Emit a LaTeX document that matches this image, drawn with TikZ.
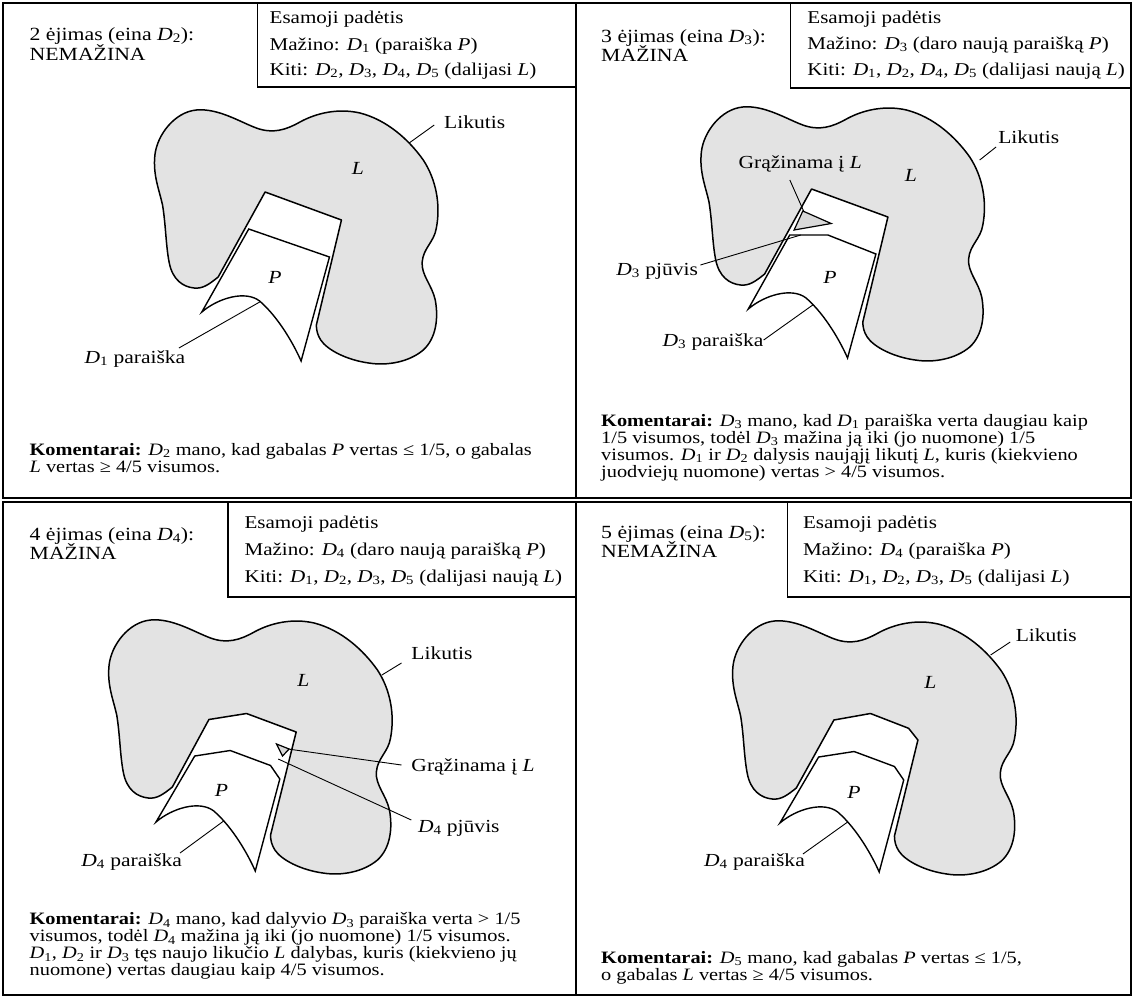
\documentclass[tikz,border=0pt]{standalone}
\usepackage{fontspec}
\setmainfont{Liberation Serif}[FakeStretch=1.17]
\newcommand{\DD}[1]{\textit{D}\textsubscript{#1}}
\newcommand{\vP}{\textit{P}}
\newcommand{\vL}{\textit{L}}
\tikzset{
  panelframe/.style={draw=black, line width=1.6pt},
  infobox/.style={draw=black, line width=1.3pt},
  blobfill/.style={fill=black!11, draw=black, line width=1.5pt, line join=round},
  piece/.style={fill=white, draw=black, line width=1.4pt, line join=miter},
  cutbit/.style={fill=black!15, draw=black, line width=1.2pt, line join=miter},
  lead/.style={draw=black, line width=0.9pt},
  ttxt/.style={anchor=base west, inner sep=0pt, font=\fontsize{18.6}{20}\selectfont},
  txt/.style={anchor=base west, inner sep=0pt, font=\fontsize{18}{24}\selectfont},
  ctxt/.style={anchor=base west, inner sep=0pt, font=\fontsize{17.4}{17}\selectfont},
  ltxt/.style={anchor=base west, inner sep=0pt, font=\fontsize{18.4}{22}\selectfont},
  rtxt/.style={anchor=base east, inner sep=0pt, font=\fontsize{18.4}{22}\selectfont},
  lbl/.style={inner sep=0pt, font=\fontsize{18.5}{22}\selectfont},
  blobout/.style={insert path={
    .. controls (192,284) and (186,289) .. (178,288)
    .. controls (168,287) and (158,280) .. (155,262)
    .. controls (152,245) and (152,225) .. (149,205)
    .. controls (146,190) and (140,175) .. (142,155)
    .. controls (144,135) and (160,112) .. (180,110)
    .. controls (200,108) and (220,122) .. (235,128)
    .. controls (250,134) and (262,130) .. (275,122)
    .. controls (290,113) and (310,108) .. (330,113)
    .. controls (355,120) and (375,140) .. (388,160)
    .. controls (400,180) and (404,205) .. (400,228)
    .. controls (398,242) and (388,248) .. (387,262)
    .. controls (386,275) and (396,285) .. (399,300)
    .. controls (402,318) and (400,338) .. (388,350)
    .. controls (375,362) and (355,366) .. (338,363)
    .. controls (318,360) and (300,350) .. (294,340)
    .. controls (291,335) and (290,330) .. (290,325)}},
  arch/.style={insert path={
    .. controls (270,346) and (256,318) .. (238,301)
    .. controls (225,290) and (200,298) .. (185,312)}}
}
\begin{document}
\begin{tikzpicture}[x=1pt,y=-1pt]
\useasboundingbox (0,0) rectangle (1133,997);
\fill[white] (0,0) rectangle (1133,997);

% ---------- panel frames ----------
\draw[panelframe] (3,3) rectangle (576,498);
\draw[panelframe] (576,3) rectangle (1131,498);
\draw[panelframe] (3,502) rectangle (576,995);
\draw[panelframe] (576,502) rectangle (1131,995);
\draw[infobox] (257.5,3) -- (257.5,87) -- (576,87);
\draw[infobox] (790.5,3) -- (790.5,88) -- (1131,88);
\draw[infobox] (228,502) -- (228,597) -- (576,597);
\draw[infobox] (787.5,502) -- (787.5,597) -- (1131,597);

% ===================== left column (panels 1 and 3) =====================
\begin{scope}[xscale=1.0909]
% ---------- panel 1 shapes ----------
\begin{scope}
  \filldraw[blobfill] (200,277) [blobout] -- (313,220) -- (243,192) -- cycle;
  \filldraw[piece] (185,312) -- (228,229) -- (302,257) -- (276,361) [arch] -- cycle;
  \coordinate (a1) at (375,143);
  \coordinate (r1) at (238,302);
\end{scope}
% ---------- panel 3 shapes ----------
\begin{scope}[shift={(-42,510)}]
  \filldraw[blobfill] (200,277) [blobout] -- (313.5,222) -- (268,203.5) -- (233.5,209.5) -- cycle;
  \filldraw[piece] (185,312) -- (220.5,246) -- (253,240.5) -- (290,255.5) -- (298.5,269) -- (276,361) [arch] -- cycle;
  \filldraw[cutbit] (295.5,234) -- (307,239) -- (301,246) -- cycle;
  \coordinate (r3) at (247,311);
  \coordinate (g3) at (306,239);
  \coordinate (c3) at (297,249);
\end{scope}

% ---------- panel 1 texts ----------
\node[ttxt] (t1a) at (27,40) {2 ėjimas (eina \DD{2}):};
\node[ttxt] (t1b) at (27,60) {NEMAŽINA};
\node[txt] (i1a) at (247,23) {Esamoji padėtis};
\node[txt] (i1b) at (247,50) {Mažino: \DD{1} (paraiška \vP)};
\node[txt] (i1c) at (247,75) {Kiti: \DD{2}, \DD{3}, \DD{4}, \DD{5} (dalijasi \vL)};
\node[ctxt] (k1a) at (27,455) {\textbf{Komentarai:} \DD{2} mano, kad gabalas \vP{} vertas ≤ 1/5, o gabalas};
\node[ctxt] (k1b) at (27,472) {\vL{} vertas ≥ 4/5 visumos.};
\node[lbl] (L1) at (328,168) {\vL};
\node[lbl] (P1) at (252,277) {\vP};
\node[ltxt] (lk1) at (407,128) {Likutis};
\coordinate (lk1s) at (398,125);
\draw[lead] (lk1s) -- (a1);
\node[rtxt] (pr1) at (170,363) {\DD{1} paraiška};
\coordinate (pr1s) at (164,348);
\draw[lead] (pr1s) -- (r1);

% ---------- panel 3 texts ----------
\node[ttxt] (t3a) at (27,540) {4 ėjimas (eina \DD{4}):};
\node[ttxt] (t3b) at (27,559) {MAŽINA};
\node[txt] (i3a) at (224,528) {Esamoji padėtis};
\node[txt] (i3b) at (224,555) {Mažino: \DD{4} (daro naują paraišką \vP)};
\node[txt] (i3c) at (224,582) {Kiti: \DD{1}, \DD{2}, \DD{3}, \DD{5} (dalijasi naują \vL)};
\node[ctxt] (k3a) at (27,924.5) {\textbf{Komentarai:} \DD{4} mano, kad dalyvio \DD{3} paraiška verta > 1/5};
\node[ctxt] (k3b) at (27,941.5) {visumos, todėl \DD{4} mažina ją iki (jo nuomone) 1/5 visumos.};
\node[ctxt] (k3c) at (27,958.5) {\DD{1}, \DD{2} ir \DD{3} tęs naujo likučio \vL{} dalybas, kuris (kiekvieno jų};
\node[ctxt] (k3d) at (27,975.5) {nuomone) vertas daugiau kaip 4/5 visumos.};
\node[lbl] (L3) at (278,680) {\vL};
\node[lbl] (P3) at (203,790) {\vP};
\node[ltxt] (lk3) at (377,659) {Likutis};
\coordinate (lk3s) at (368,663);
\coordinate (lk3e) at (350,675);
\draw[lead] (lk3s) -- (lk3e);
\node[ltxt] (gr3) at (377,771) {Grąžinama į \vL};
\coordinate (gr3s) at (368,765);
\draw[lead] (gr3s) -- (g3);
\node[ltxt] (pj3) at (383,832) {\DD{4} pjūvis};
\coordinate (pj3s) at (377,820);
\draw[lead] (pj3s) -- (c3);
\node[rtxt] (pr3) at (167,866) {\DD{4} paraiška};
\coordinate (pr3s) at (165,853);
\draw[lead] (pr3s) -- (r3);
\end{scope}

% ===================== right column (panels 2 and 4) =====================
\begin{scope}[shift={(565,0)}, xscale=1.0909, shift={(-565,0)}]
% ---------- panel 2 shapes ----------
\begin{scope}[shift={(548,-3)}]
  \filldraw[blobfill] (200,277) [blobout] -- (313,220) -- (243,192) -- cycle;
  \filldraw[piece] (185,312) -- (223,238) -- (258,238) -- (302,257) -- (276,361) [arch] -- cycle;
  \filldraw[cutbit] (235,214) -- (261,226.5) -- (227,233) -- cycle;
  \coordinate (r2) at (244,308);
  \coordinate (g2) at (236,215);
  \coordinate (c2) at (233,238);
\end{scope}
% ---------- panel 4 shapes ----------
\begin{scope}[shift={(577,511)}]
  \filldraw[blobfill] (200,277) [blobout] -- (311.5,229) -- (303,217.3) -- (268,202.5) -- (234.5,209) -- cycle;
  \filldraw[piece] (185,312) -- (220.5,246) -- (253,240.5) -- (290,255.5) -- (298.5,269) -- (276,361) [arch] -- cycle;
  \coordinate (r4) at (247,311);
\end{scope}

% ---------- panel 2 texts ----------
\node[ttxt] (t2a) at (598,42) {3 ėjimas (eina \DD{3}):};
\node[ttxt] (t2b) at (598,61) {MAŽINA};
\node[txt] (i2a) at (787,23) {Esamoji padėtis};
\node[txt] (i2b) at (787,49) {Mažino: \DD{3} (daro naują paraišką \vP)};
\node[txt] (i2c) at (787,75) {Kiti: \DD{1}, \DD{2}, \DD{4}, \DD{5} (dalijasi naują \vL)};
\node[ctxt] (k2a) at (598,426) {\textbf{Komentarai:} \DD{3} mano, kad \DD{1} paraiška verta daugiau kaip};
\node[ctxt] (k2b) at (598,443) {1/5 visumos, todėl \DD{3} mažina ją iki (jo nuomone) 1/5};
\node[ctxt] (k2c) at (598,460) {visumos. \DD{1} ir \DD{2} dalysis naująjį likutį \vL, kuris (kiekvieno};
\node[ctxt] (k2d) at (598,477) {juodviejų nuomone) vertas > 4/5 visumos.};
\node[lbl] (L2) at (882,175) {\vL};
\node[lbl] (P2) at (808,277) {\vP};
\node[ltxt] (lk2) at (962,143) {Likutis};
\coordinate (lk2s) at (960,147);
\coordinate (lk2e) at (945,160);
\draw[lead] (lk2s) -- (lk2e);
\node[ltxt] (gr2) at (724,168) {Grąžinama į \vL};
\coordinate (gr2s) at (771,180);
\draw[lead] (gr2s) -- (g2);
\node[rtxt] (pj2) at (687,275) {\DD{3} pjūvis};
\coordinate (pj2s) at (689,265);
\draw[lead] (pj2s) -- (c2);
\node[rtxt] (pr2) at (747,346) {\DD{3} paraiška};
\coordinate (pr2s) at (747,340);
\draw[lead] (pr2s) -- (r2);

% ---------- panel 4 texts ----------
\node[ttxt] (t4a) at (598,538) {5 ėjimas (eina \DD{5}):};
\node[ttxt] (t4b) at (598,557) {NEMAŽINA};
\node[txt] (i4a) at (783,528) {Esamoji padėtis};
\node[txt] (i4b) at (783,555) {Mažino: \DD{4} (paraiška \vP)};
\node[txt] (i4c) at (783,582) {Kiti: \DD{1}, \DD{2}, \DD{3}, \DD{5} (dalijasi \vL)};
\node[ctxt] (k4a) at (598,963) {\textbf{Komentarai:} \DD{5} mano, kad gabalas \vP{} vertas ≤ 1/5,};
\node[ctxt] (k4b) at (598,980) {o gabalas \vL{} vertas ≥ 4/5 visumos.};
\node[lbl] (L4) at (900,682) {\vL};
\node[lbl] (P4) at (830,792) {\vP};
\node[ltxt] (lk4) at (978,641) {Likutis};
\coordinate (lk4s) at (973,642);
\coordinate (lk4e) at (955,655);
\draw[lead] (lk4s) -- (lk4e);
\node[rtxt] (pr4) at (785,866) {\DD{4} paraiška};
\coordinate (pr4s) at (783,854);
\draw[lead] (pr4s) -- (r4);
\end{scope}
\end{tikzpicture}
\end{document}
